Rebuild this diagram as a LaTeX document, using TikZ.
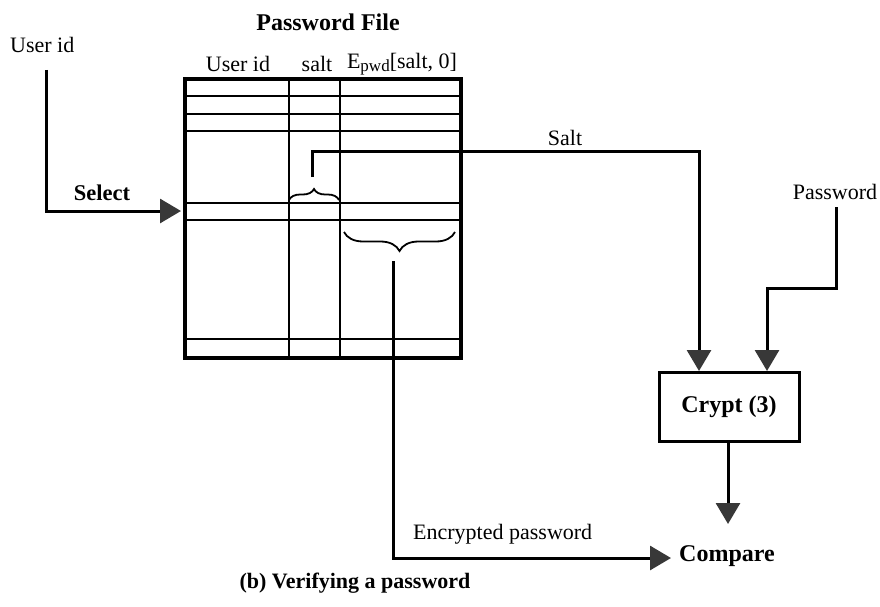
\documentclass[tikz,border=0pt]{standalone}
\usepackage{fontspec}
\setmainfont{Liberation Serif}
\usetikzlibrary{arrows.meta,decorations.pathreplacing}

\tikzset{
  lbl/.style={inner sep=0pt, font=\fontsize{22}{24}\selectfont},
  blbl/.style={inner sep=0pt, font=\fontsize{22.5}{24}\selectfont\bfseries},
  conn/.style={line width=3pt, line join=miter},
  flow/.style={conn, -{Triangle[length=21pt,width=24pt,color=black!78]}},
  rowline/.style={line width=2pt},
  frame/.style={line width=3.2pt},
  bracestyle/.style={line width=1.8pt, decorate},
  procbox/.style={draw, line width=3pt, minimum width=140pt, minimum height=69pt,
    inner sep=0pt, font=\fontsize{24}{26}\selectfont\bfseries},
}

\begin{document}
\begin{tikzpicture}[x=1pt,y=-1pt]
\useasboundingbox (0,0) rectangle (880,607);

% titles and column headings
\node[blbl, font=\fontsize{24}{26}\selectfont\bfseries] (title) at (328,22) {Password File};
\node[lbl] (hUser) at (238,64) {User id};
\node[lbl] (hSalt) at (317,64) {salt};
\node[lbl] (hEnc) at (402,64) {E{\fontsize{17}{17}\selectfont\raisebox{-3pt}{pwd}}[salt, 0]};

% the password file table
\coordinate (tl) at (185,79);
\coordinate (br) at (461,358);
\foreach \y in {96,114,131,203,220,339}
  \draw[rowline] (185,\y) -- (461,\y);
\draw[rowline] (289,79) -- (289,358);
\draw[rowline] (340,79) -- (340,358);
\draw[frame] (tl) rectangle (br);

% braces marking the salt and the encrypted password fields
\draw[bracestyle, decoration={brace, amplitude=11pt}] (289,200) -- (339,200);
\draw[bracestyle, decoration={brace, amplitude=19pt}] (455,232) -- (344,232);

% user id input and selection
\node[lbl, anchor=west] (uid) at (10,45) {User id};
\node[blbl] (sel) at (102,193) {Select};
\coordinate (uidTop) at (46,70);
\coordinate (selTip) at (181,211);
\draw[flow] (uidTop) |- (selTip);

% crypt(3) box and the compare step
\node[procbox] (crypt) at (729,407) {Crypt (3)};
\node[blbl, font=\fontsize{24}{26}\selectfont\bfseries, anchor=west] (cmp) at (679,556) {Compare};

% salt taken from the table into crypt
\coordinate (saltStart) at (312,177);
\coordinate (saltCorner) at (312,151);
\coordinate (saltIn) at (699,151);
\node[lbl] (saltLbl) at (565,138) {Salt};
\draw[flow] (saltStart) -- (saltCorner) -- (saltIn) -- (saltIn |- crypt.north);

% user-supplied password into crypt
\node[lbl] (pwLbl) at (835,192) {Password};
\coordinate (pwTop) at (836,207);
\coordinate (pwBend) at (767,288);
\draw[flow] (pwTop) |- (pwBend) -- (pwBend |- crypt.north);

% crypt output to compare
\coordinate (cmpIn) at (728,524);
\draw[flow] (crypt.south -| cmpIn) -- (cmpIn);

% stored encrypted password to compare
\coordinate (encStart) at (393,261);
\coordinate (encTip) at (671,558);
\node[lbl, anchor=west] (encLbl) at (413,534) {Encrypted password};
\draw[flow] (encStart) |- (encTip);

% caption
\node[blbl, font=\fontsize{22}{24}\selectfont\bfseries] (cap) at (355,583) {(b) Verifying a password};
\end{tikzpicture}
\end{document}
